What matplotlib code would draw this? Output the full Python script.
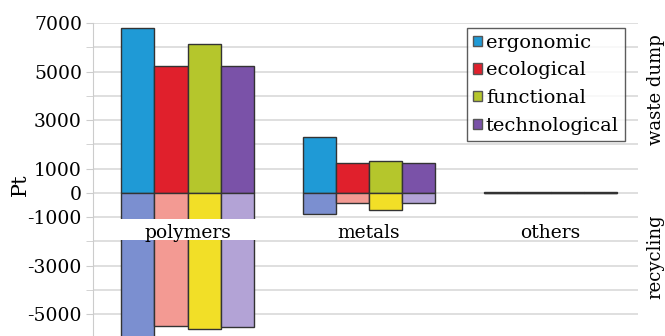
import matplotlib.pyplot as plt
from matplotlib.patches import Patch
import numpy as np

plt.rcParams['font.family'] = ['DejaVu Serif']
plt.rcParams['axes.unicode_minus'] = False

# Dane
categorias = ['polymers', 'metals', 'others']
series = ['ergonomic', 'ecological', 'functional', 'technological']

# waste dump (dodatnie)
ergonomic_dump = [6790, 2300, 30]
ecological_dump = [5250, 1235, 30]
functional_dump = [6160, 1300, 30]
technological_dump = [5250, 1235, 30]

# recycling (ujemne)
ergonomic_rec = [-6300, -865, -20]
ecological_rec = [-5490, -410, -20]
functional_rec = [-5625, -690, -20]
technological_rec = [-5515, -410, -20]

yticks = [7000, 5000, 3000, 1000, 0, -1000, -3000, -5000]
ytick_labels = ['7000', '5000', '3000', '1000', '0', '-1000', '-3000', '-5000']

kolory_dump = ['#1f9ad6', '#e0202c', '#b5c62c', '#7a52a8']
kolory_rec = ['#7b8fd0', '#f39a93', '#f2df27', '#b3a3d6']

dump = [ergonomic_dump, ecological_dump, functional_dump, technological_dump]
rec = [ergonomic_rec, ecological_rec, functional_rec, technological_rec]

fig = plt.figure(figsize=(6.65, 3.36), dpi=100)
ax = fig.add_axes([0.14, 0.0, 0.819, 0.931])

x = np.arange(len(categorias))
w = 0.183
for i in range(4):
    pos = x + (i - 1.5) * w
    ax.bar(pos, dump[i], w, color=kolory_dump[i], edgecolor='#333333', linewidth=1.0, zorder=2)
    ax.bar(pos, rec[i], w, color=kolory_rec[i], edgecolor='#333333', linewidth=1.0, zorder=2)

# biały pasek pod etykietami kategorii
ax.axhspan(-1960, -1070, color='white', zorder=2.5, linewidth=0)
for xi, c in zip(x, categorias):
    ax.text(xi, -1640, c, ha='center', va='center', fontsize=13.5, zorder=3)

ax.set_xlim(-0.52, 2.48)
ax.set_ylim(-5900, 7000)
ax.set_xticks([])
ax.set_yticks(yticks)
ax.set_yticklabels(ytick_labels, fontsize=13.5)
ax.set_yticks(np.arange(-5000, 7001, 1000), minor=True)
ax.tick_params(axis='y', which='both', length=5, color='#cccccc', pad=3)
ax.grid(True, axis='y', which='both', color='#d9d9d9', linewidth=1.2, zorder=0)
ax.set_axisbelow(True)

for s in ['top', 'right', 'bottom']:
    ax.spines[s].set_visible(False)
ax.spines['left'].set_color('#cccccc')

fig.text(0.03, 0.45, 'Pt', rotation=90, ha='center', va='center', fontsize=15)
ax.text(1.033, 4250, 'waste dump', rotation=90, ha='center', va='center',
        fontsize=13, transform=ax.get_yaxis_transform(), clip_on=False)
ax.text(1.033, -2640, 'recycling', rotation=90, ha='center', va='center',
        fontsize=13, transform=ax.get_yaxis_transform(), clip_on=False)

uchwyty = [Patch(facecolor=k, edgecolor='#555555') for k in kolory_dump]
leg = ax.legend(uchwyty, series, loc='upper right', bbox_to_anchor=(0.976, 0.985),
                fontsize=14, frameon=True, fancybox=False, borderaxespad=0,
                handlelength=0.45, handleheight=0.45, handletextpad=0.2,
                labelspacing=0.5, borderpad=0.3)
leg.get_frame().set_edgecolor('#333333')
leg.get_frame().set_linewidth(1.0)
leg.set_zorder(5)

fig.savefig('out.png', dpi=100)
